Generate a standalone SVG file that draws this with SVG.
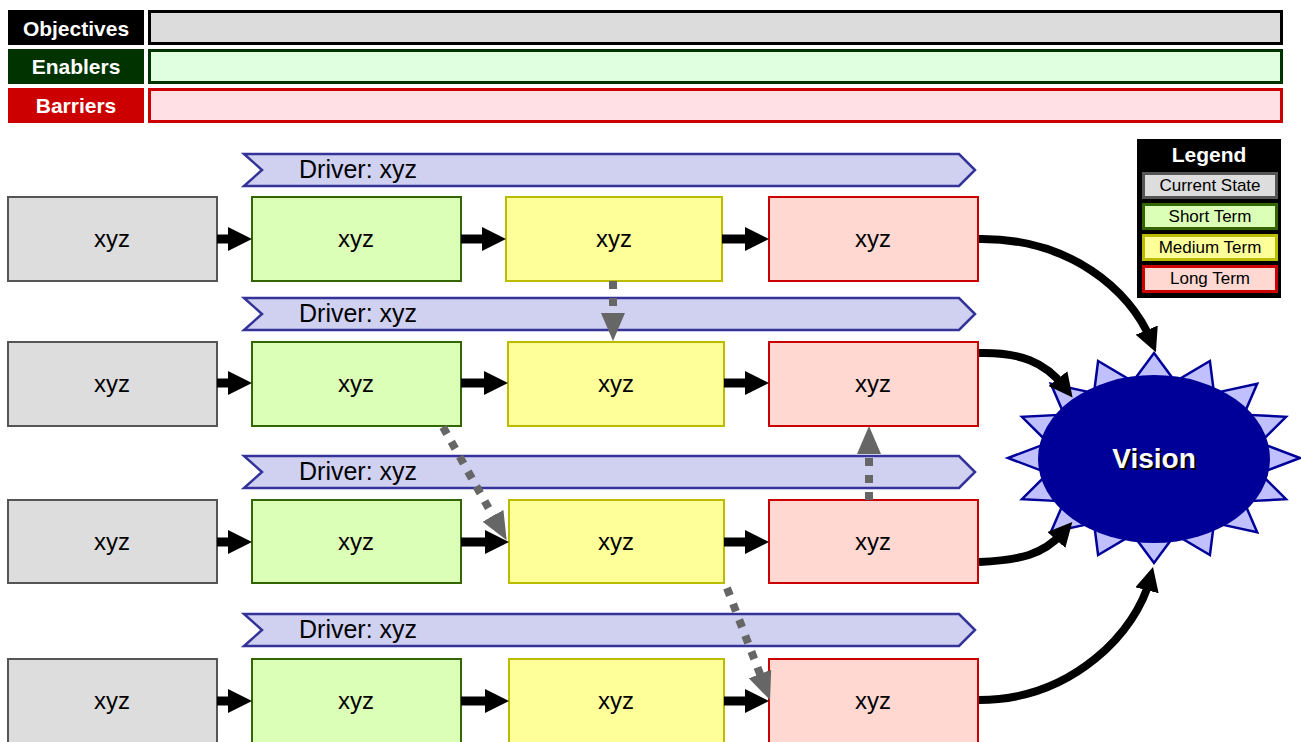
<svg xmlns="http://www.w3.org/2000/svg" width="1301" height="742" viewBox="0 0 1301 742">
<style>
text{font-family:"Liberation Sans",Arial,sans-serif}
.lbl{font-weight:bold;fill:#fff;font-size:21px;text-anchor:middle}
.bx{font-size:24px;text-anchor:middle;fill:#000}
.drv{font-size:25px;fill:#000}
.lg{font-size:17px;text-anchor:middle;fill:#000}
.cur{fill:#dddddd;stroke:#555555;stroke-width:2}
.st{fill:#dcffb8;stroke:#336600;stroke-width:2}
.mt{fill:#ffff99;stroke:#bbbb00;stroke-width:2}
.lt{fill:#ffd8d2;stroke:#cc0000;stroke-width:2}
.driver{fill:#d0d0f0;stroke:#333399;stroke-width:2.5}
.blk{stroke:#000;stroke-width:9;fill:none}
.crv{stroke:#000;stroke-width:8;fill:none}
.dot{stroke:#666;stroke-width:8;fill:none;stroke-dasharray:8 9}
</style>
<defs>
<marker id="ah" markerUnits="userSpaceOnUse" markerWidth="24" markerHeight="24" refX="12" refY="12" orient="auto" viewBox="0 0 24 24"><path d="M0,0 L24,12 L0,24 Z" fill="#000"/></marker>
<marker id="ahc" markerUnits="userSpaceOnUse" markerWidth="24" markerHeight="24" refX="10" refY="12" orient="auto" viewBox="0 0 24 24"><path d="M0,0 L24,12 L0,24 Z" fill="#000"/></marker>
<marker id="ahd" markerUnits="userSpaceOnUse" markerWidth="28" markerHeight="24" refX="14" refY="12" orient="auto" viewBox="0 0 28 24"><path d="M0,0 L28,12 L0,24 Z" fill="#666"/></marker>
</defs>

<g id="header">
<rect x="8" y="10" width="136" height="35" fill="#000"/>
<text class="lbl" x="76" y="36">Objectives</text>
<rect x="149.5" y="11.5" width="1132" height="32" fill="#dcdcdc" stroke="#000" stroke-width="3"/>
<rect x="8" y="49" width="136" height="35" fill="#003300"/>
<text class="lbl" x="76" y="74">Enablers</text>
<rect x="149.5" y="50.5" width="1132" height="32" fill="#e0ffe0" stroke="#003300" stroke-width="3"/>
<rect x="8" y="88" width="136" height="35" fill="#cc0000"/>
<text class="lbl" x="76" y="113">Barriers</text>
<rect x="149.5" y="89.5" width="1132" height="32" fill="#ffe0e4" stroke="#cc0000" stroke-width="3"/>
</g>

<g id="drivers">
<path class="driver" d="M244,154 H959 L975,170 L959,186 H244 L262,170 Z"/>
<text class="drv" x="299" y="178">Driver: xyz</text>
<path class="driver" d="M244,298 H959 L975,314 L959,330 H244 L262,314 Z"/>
<text class="drv" x="299" y="322">Driver: xyz</text>
<path class="driver" d="M244,456 H959 L975,472 L959,488 H244 L262,472 Z"/>
<text class="drv" x="299" y="480">Driver: xyz</text>
<path class="driver" d="M244,614 H959 L975,630 L959,646 H244 L262,630 Z"/>
<text class="drv" x="299" y="638">Driver: xyz</text>
</g>

<g id="row1">
<g id="r1c1"><rect class="cur" x="8" y="197" width="209" height="84"/><text class="bx" x="112" y="247">xyz</text></g>
<g id="r1c2"><rect class="st" x="252" y="197" width="209" height="84"/><text class="bx" x="356" y="247">xyz</text></g>
<g id="r1c3"><rect class="mt" x="506" y="197" width="216" height="84"/><text class="bx" x="614" y="247">xyz</text></g>
<g id="r1c4"><rect class="lt" x="769" y="197" width="209" height="84"/><text class="bx" x="873" y="247">xyz</text></g>
</g>
<g id="row2">
<g id="r2c1"><rect class="cur" x="8" y="342" width="209" height="84"/><text class="bx" x="112" y="392">xyz</text></g>
<g id="r2c2"><rect class="st" x="252" y="342" width="209" height="84"/><text class="bx" x="356" y="392">xyz</text></g>
<g id="r2c3"><rect class="mt" x="508" y="342" width="216" height="84"/><text class="bx" x="616" y="392">xyz</text></g>
<g id="r2c4"><rect class="lt" x="769" y="342" width="209" height="84"/><text class="bx" x="873" y="392">xyz</text></g>
</g>
<g id="row3">
<g id="r3c1"><rect class="cur" x="8" y="500" width="209" height="83"/><text class="bx" x="112" y="550">xyz</text></g>
<g id="r3c2"><rect class="st" x="252" y="500" width="209" height="83"/><text class="bx" x="356" y="550">xyz</text></g>
<g id="r3c3"><rect class="mt" x="509" y="500" width="215" height="83"/><text class="bx" x="616" y="550">xyz</text></g>
<g id="r3c4"><rect class="lt" x="769" y="500" width="209" height="83"/><text class="bx" x="873" y="550">xyz</text></g>
</g>
<g id="row4">
<g id="r4c1"><rect class="cur" x="8" y="659" width="209" height="90"/><text class="bx" x="112" y="709">xyz</text></g>
<g id="r4c2"><rect class="st" x="252" y="659" width="209" height="90"/><text class="bx" x="356" y="709">xyz</text></g>
<g id="r4c3"><rect class="mt" x="509" y="659" width="215" height="90"/><text class="bx" x="616" y="709">xyz</text></g>
<g id="r4c4"><rect class="lt" x="769" y="659" width="209" height="90"/><text class="bx" x="873" y="709">xyz</text></g>
</g>

<g id="vision">
<polygon fill="#c0c0ff" stroke="#000099" stroke-width="2.5" stroke-linejoin="miter" points="1154.0,353.0 1175.1,381.5 1209.9,361.0 1214.0,393.1 1257.2,383.8 1243.8,414.7 1286.0,416.8 1259.9,442.8 1300.0,458.0 1259.9,473.2 1286.0,499.2 1243.8,501.3 1257.2,532.2 1214.0,522.9 1209.9,555.0 1175.1,534.5 1154.0,563.0 1132.9,534.5 1098.1,555.0 1094.0,522.9 1050.8,532.2 1064.2,501.3 1022.0,499.2 1048.1,473.2 1008.0,458.0 1048.1,442.8 1022.0,416.8 1064.2,414.7 1050.8,383.8 1094.0,393.1 1098.1,361.0 1132.9,381.5"/>
<ellipse cx="1154" cy="459" rx="116" ry="84" fill="#000099"/>
<text x="1156" y="470" font-size="28" font-weight="bold" text-anchor="middle" fill="#000">Vision</text>
<text x="1154" y="468" font-size="28" font-weight="bold" text-anchor="middle" fill="#fff">Vision</text>
</g>

<g id="legend">
<rect x="1137" y="139" width="144" height="159" fill="#000"/>
<text x="1209" y="162" font-size="21" font-weight="bold" text-anchor="middle" fill="#fff">Legend</text>
<rect x="1143.5" y="173.5" width="133" height="24" fill="#dddddd" stroke="#555555" stroke-width="3"/>
<text class="lg" x="1210" y="191">Current State</text>
<rect x="1143.5" y="204.5" width="133" height="24" fill="#dcffb8" stroke="#336600" stroke-width="3"/>
<text class="lg" x="1210" y="222">Short Term</text>
<rect x="1143.5" y="235.5" width="133" height="24" fill="#ffff99" stroke="#bbbb00" stroke-width="3"/>
<text class="lg" x="1210" y="253">Medium Term</text>
<rect x="1143.5" y="266.5" width="133" height="25" fill="#ffd8d2" stroke="#cc0000" stroke-width="3"/>
<text class="lg" x="1210" y="284">Long Term</text>
</g>

<g id="connectors">
<line class="blk" x1="217" y1="239" x2="240" y2="239" marker-end="url(#ah)"/>
<line class="blk" x1="461" y1="239" x2="494" y2="239" marker-end="url(#ah)"/>
<line class="blk" x1="722" y1="239" x2="757" y2="239" marker-end="url(#ah)"/>
<line class="blk" x1="217" y1="383" x2="240" y2="383" marker-end="url(#ah)"/>
<line class="blk" x1="461" y1="383" x2="496" y2="383" marker-end="url(#ah)"/>
<line class="blk" x1="724" y1="383" x2="757" y2="383" marker-end="url(#ah)"/>
<line class="blk" x1="217" y1="542" x2="240" y2="542" marker-end="url(#ah)"/>
<line class="blk" x1="461" y1="542" x2="497" y2="542" marker-end="url(#ah)"/>
<line class="blk" x1="724" y1="542" x2="757" y2="542" marker-end="url(#ah)"/>
<line class="blk" x1="217" y1="701" x2="240" y2="701" marker-end="url(#ah)"/>
<line class="blk" x1="461" y1="701" x2="497" y2="701" marker-end="url(#ah)"/>
<line class="blk" x1="724" y1="701" x2="757" y2="701" marker-end="url(#ah)"/>

<path class="crv" d="M979,239 C1070,238 1130,290 1150.5,339.4" marker-end="url(#ahc)"/>
<path class="crv" d="M979,353 C1020,352 1045,362 1064,386.5" marker-end="url(#ahc)"/>
<path class="crv" d="M979,562 C1020,560 1043,555 1063,532.5" marker-end="url(#ahc)"/>
<path class="crv" d="M979,700 C1075,700 1137,629 1149.5,580.6" marker-end="url(#ahc)"/>

<line class="dot" x1="613" y1="281" x2="613" y2="327" marker-end="url(#ahd)"/>
<line class="dot" x1="443" y1="427" x2="499.8" y2="528" marker-end="url(#ahd)"/>
<line class="dot" x1="869" y1="500" x2="869" y2="440" marker-end="url(#ahd)"/>
<line class="dot" x1="727" y1="588" x2="765" y2="687" marker-end="url(#ahd)"/>
</g>
</svg>
